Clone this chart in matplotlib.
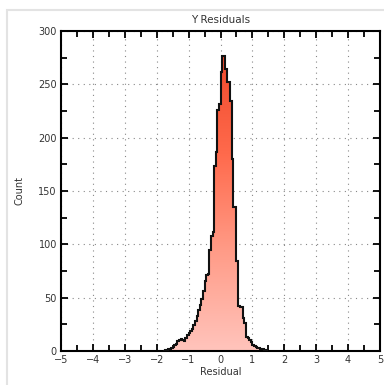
"""Y residuals histogram with a vertical gradient fill."""

import numpy as np
import matplotlib.pyplot as plt
import matplotlib as mpl
from matplotlib.colors import LinearSegmentedColormap
from matplotlib.patches import Polygon, Rectangle
from matplotlib.ticker import MultipleLocator

mpl.rcParams.update({
    "font.family": "DejaVu Sans",
    "font.size": 7,
    "xtick.labelsize": 7,
    "ytick.labelsize": 7,
    "axes.labelsize": 7,
})

# bin edges of width 0.05, from -1.80 to 1.50
BIN_START = -1.80
BIN_WIDTH = 0.05
COUNTS = [
    0, 1, 1, 2, 2, 3, 4, 6, 7, 9,          # -1.80 .. -1.35
    10, 11, 10, 9, 12, 15, 17, 19, 21, 24,  # -1.30 .. -0.85
    28, 33, 38, 43, 49, 56, 66, 71, 72, 95,  # -0.80 .. -0.35
    108, 112, 173, 187, 226, 232, 262, 277, 277, 264,  # -0.30 .. 0.15
    252, 252, 234, 180, 135, 135, 84, 42, 41, 41,  # 0.20 .. 0.65
    31, 26, 13, 12, 10, 8, 6, 5, 4, 3,  # 0.70 .. 1.15
    3, 2, 2, 1, 1, 0,  # 1.20 .. 1.45
]
X_TICKS = [-5, -4, -3, -2, -1, 0, 1, 2, 3, 4, 5]
Y_TICKS = [0, 50, 100, 150, 200, 250, 300]

counts = np.asarray(COUNTS, dtype=float)
edges = BIN_START + BIN_WIDTH * np.arange(len(counts) + 1)

fig = plt.figure(figsize=(3.84, 3.85), dpi=100)
fig.patches.append(Rectangle((7 / 384, -0.1), 1.2, (380 - 5) / 385 + 0.1,
                             transform=fig.transFigure, fill=False,
                             edgecolor="#e3e3e3", linewidth=1.5))
ax = fig.add_axes([61 / 384, 1 - 351 / 385, (380 - 61) / 384, (351 - 31) / 385])

# outline polygon of the histogram
xs = np.repeat(edges, 2)
ys = np.concatenate([[0], np.repeat(counts, 2), [0]])
poly = Polygon(np.column_stack([xs, ys]), closed=True, facecolor="none",
               edgecolor="none")
ax.add_patch(poly)

cmap = LinearSegmentedColormap.from_list(
    "resid", ["#ffc4bc", "#ff9c88", "#ff6a4c", "#f04a2c"])
grad = np.linspace(0, 1, 256).reshape(-1, 1)
img = ax.imshow(grad, extent=[-5, 5, 0, max(COUNTS)], origin="lower",
                cmap=cmap, aspect="auto", zorder=2)
img.set_clip_path(poly)

ax.stairs(counts, edges, color="#111111", linewidth=1.5, zorder=3)

ax.set_xlim(-5, 5)
ax.set_ylim(0, 300)
ax.set_xticks(X_TICKS)
ax.set_yticks(Y_TICKS)
ax.xaxis.set_minor_locator(MultipleLocator(0.5))
ax.yaxis.set_minor_locator(MultipleLocator(25))
ax.tick_params(which="both", direction="in", top=True, right=True,
               width=1.3, color="black", labelcolor="#333333")
ax.tick_params(which="major", length=5, pad=3)
ax.tick_params(which="minor", length=4)
for spine in ax.spines.values():
    spine.set_linewidth(1.5)
ax.grid(True, which="major", color="#888888", linestyle=(0, (1, 4)),
        linewidth=0.8, zorder=1)
ax.set_axisbelow(True)

ax.set_title("Y Residuals", fontsize=7.5, color="#333333", pad=6)
ax.set_xlabel("Residual", color="#333333", labelpad=1)
ax.set_ylabel("Count", color="#333333", labelpad=10)

fig.savefig("out.png", dpi=100)
